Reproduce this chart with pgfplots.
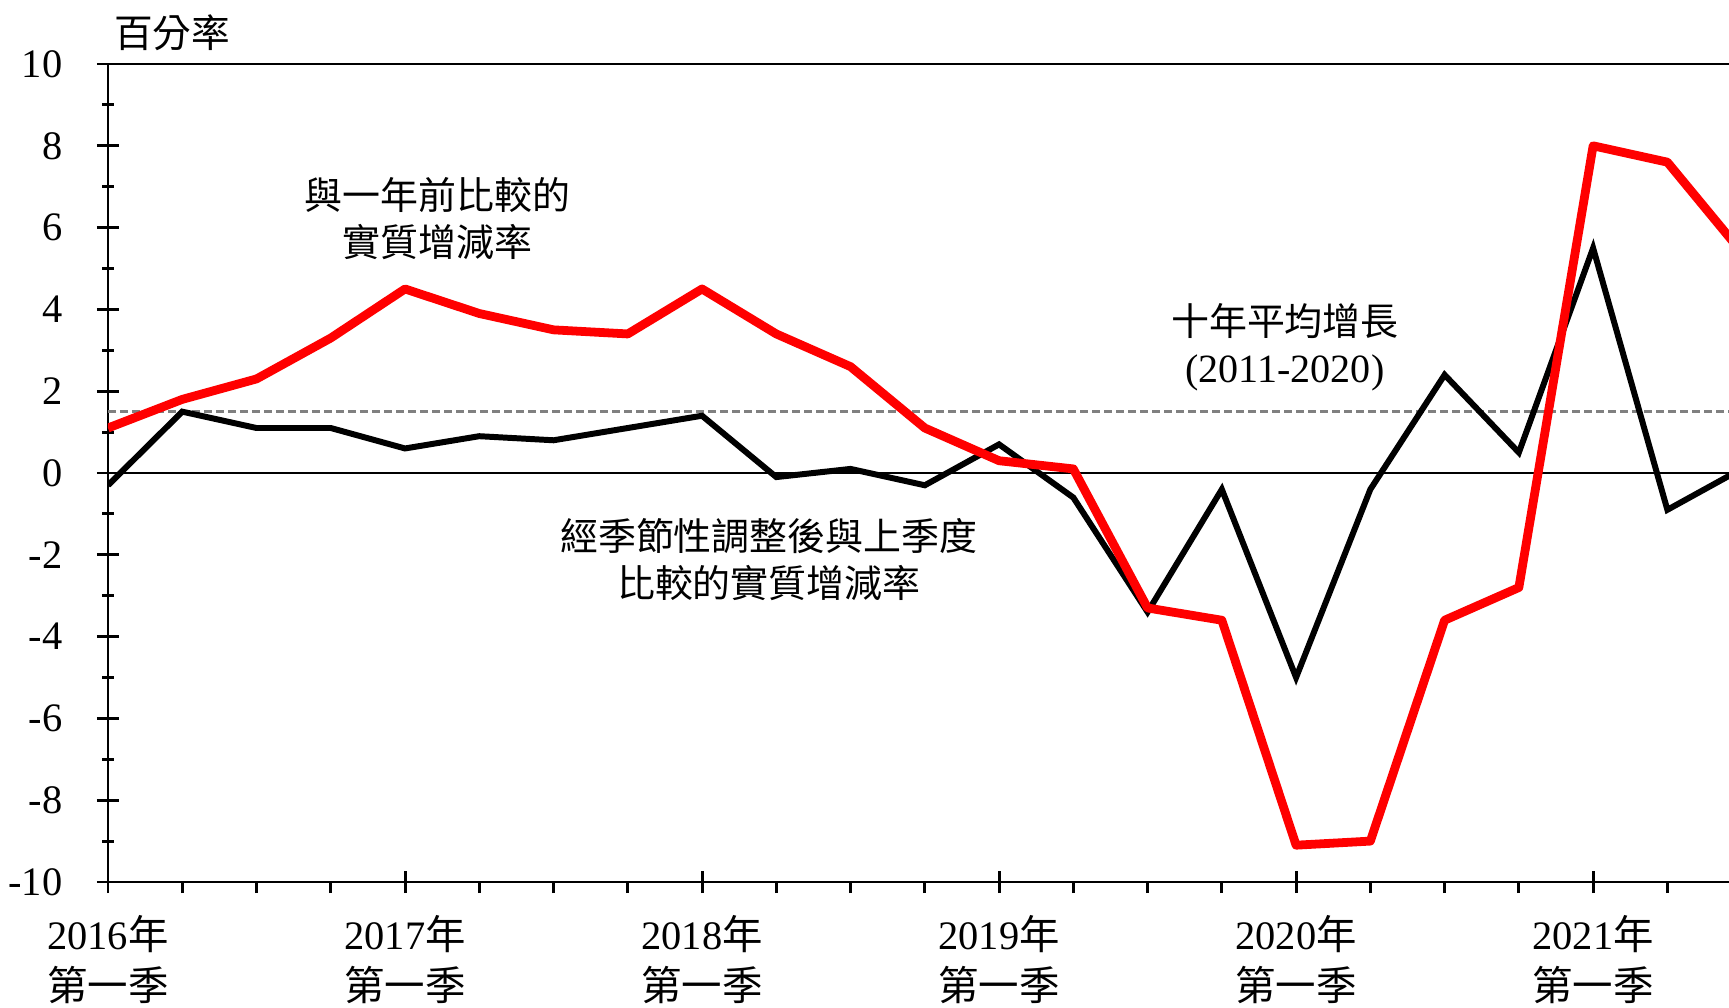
\documentclass[border=0pt]{standalone}
\usepackage{fontspec}
\setmainfont{Liberation Serif}
\newfontfamily\cjk{Noto Sans CJK TC}
\usepackage{pgfplots}
\pgfplotsset{compat=1.18}
\pgfplotstableread{
q yoy qoq
0 1.1 -0.3
1 1.8 1.5
2 2.3 1.1
3 3.3 1.1
4 4.5 0.6
5 3.9 0.9
6 3.5 0.8
7 3.4 1.1
8 4.5 1.4
9 3.4 -0.1
10 2.6 0.1
11 1.1 -0.3
12 0.3 0.7
13 0.1 -0.6
14 -3.3 -3.4
15 -3.6 -0.4
16 -9.1 -5.0
17 -9.0 -0.4
18 -3.6 2.4
19 -2.8 0.5
20 8.0 5.5
21 7.6 -0.9
22 5.4 0.1
}\gdp
\begin{document}
\begin{tikzpicture}
\begin{axis}[
  scale only axis, width=162.1mm, height=81.8mm,
  xmin=0, xmax=21.83, ymin=-10, ymax=10,
  axis x line=box, axis y line=left,
  axis line style={-, line width=0.85pt},
  xtick pos=left,
  font=\fontsize{11.5}{14.6}\selectfont,
  ytick={-10,-8,...,10},
  yticklabels={-10,-8,-6,-4,-2,0,2,4,6,8,10},
  minor ytick={-9,-7,...,9},
  xtick={0,4,8,12,16,20},
  xticklabels={{2016{\cjk 年}\\{\cjk 第一季}},{2017{\cjk 年}\\{\cjk 第一季}},{2018{\cjk 年}\\{\cjk 第一季}},{2019{\cjk 年}\\{\cjk 第一季}},{2020{\cjk 年}\\{\cjk 第一季}},{2021{\cjk 年}\\{\cjk 第一季}}},
  tick align=center,
  major tick length=2.2mm, minor tick length=1.1mm,
  tick style={black, line width=0.85pt},
  extra x ticks={1,2,3,5,6,7,9,10,11,13,14,15,17,18,19,21},
  extra x tick labels={},
  extra x tick style={tick align=outside, major tick length=1.1mm},
  yticklabel style={inner sep=0pt, anchor=east, xshift=-3.4mm},
  xticklabel style={inner sep=0pt, anchor=north, align=center, yshift=-2.15mm},
  clip=true,
]
\addplot[black, line width=0.6pt, forget plot] coordinates {(0,0) (22,0)};
\addplot[gray, line width=0.7pt, dash pattern=on 0.8mm off 0.4mm, forget plot] coordinates {(0,1.5) (22,1.5)};
\addplot[black, line width=1.7pt, line join=miter, miter limit=4] table[x=q, y=qoq] {\gdp};
\addplot[red, line width=2.5pt, line join=round] table[x=q, y=yoy] {\gdp};
\node[align=center, font={\cjk\fontsize{10.8}{13.4}\selectfont}] at (axis cs:4.44,6.21) {與一年前比較的\\實質增減率};
\node[align=center, font={\fontsize{10.8}{13.4}\selectfont}] at (axis cs:15.85,3.08) {{\cjk 十年平均增長}\\\fontsize{11.4}{13.4}\selectfont(2011-2020)};
\node[align=center, font={\cjk\fontsize{10.8}{13.4}\selectfont}] at (axis cs:8.90,-2.11) {經季節性調整後與上季度\\比較的實質增減率};
\coordinate (SW) at (rel axis cs:0,0);
\coordinate (NW) at (rel axis cs:0,1);
\end{axis}
\node[anchor=west, inner sep=0pt, font={\cjk\fontsize{11}{13}\selectfont}] at ([xshift=0.56mm,yshift=3.1mm]NW) {百分率};
\pgfresetboundingbox
\path ([xshift=-10.8mm,yshift=-12.5mm]SW) rectangle ++(172.9mm,100.7mm);
\end{tikzpicture}
\end{document}
